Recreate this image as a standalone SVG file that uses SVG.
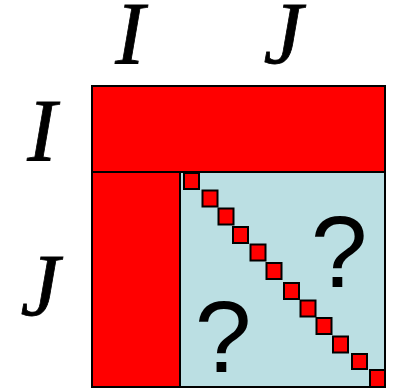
<svg xmlns="http://www.w3.org/2000/svg" width="394" height="388" viewBox="0 0 394 388">
<style>
.lbl{font-family:"Liberation Serif","DejaVu Serif",serif;font-style:italic;font-size:88px;fill:#000;stroke:#000;stroke-width:0.8;text-anchor:middle}
.q{font-family:"Liberation Sans","Arial",sans-serif;font-size:102px;fill:#000;text-anchor:middle}
.red{fill:#FF0000;stroke:#000;stroke-width:2}
.blue{fill:#BBDFE3;stroke:#000;stroke-width:2}
.sq{fill:#FF0000;stroke:#000;stroke-width:2}
</style>
<rect width="394" height="388" fill="#fff"/>
<g id="labels">
<text class="lbl" x="130" y="63">I</text>
<text class="lbl" x="283" y="63">J</text>
<text class="lbl" x="42" y="160">I</text>
<text class="lbl" x="40" y="315">J</text>
</g>
<g id="matrix">
<rect id="top-band" class="red" x="92" y="86" width="293" height="86"/>
<rect id="left-col" class="red" x="92" y="172" width="88" height="215"/>
<rect id="rest" class="blue" x="180" y="172" width="205" height="215"/>
</g>
<g id="diagonal">
<rect class="sq" x="184" y="173" width="15" height="16"/>
<rect class="sq" x="202.5" y="190.5" width="15" height="16"/>
<rect class="sq" x="218.5" y="208.5" width="15" height="16"/>
<rect class="sq" x="233" y="227" width="15" height="16"/>
<rect class="sq" x="250.5" y="244.5" width="15" height="16"/>
<rect class="sq" x="266.5" y="263" width="15" height="16"/>
<rect class="sq" x="284" y="283" width="15" height="16"/>
<rect class="sq" x="300.5" y="300.5" width="15" height="16"/>
<rect class="sq" x="316.5" y="318" width="15" height="16"/>
<rect class="sq" x="333" y="336.5" width="15" height="16"/>
<rect class="sq" x="352" y="354" width="15" height="15"/>
<rect class="sq" x="370" y="370" width="15" height="17"/>
</g>
<g id="questions">
<text class="q" x="339" y="287">?</text>
<text class="q" x="223" y="372">?</text>
</g>
</svg>
